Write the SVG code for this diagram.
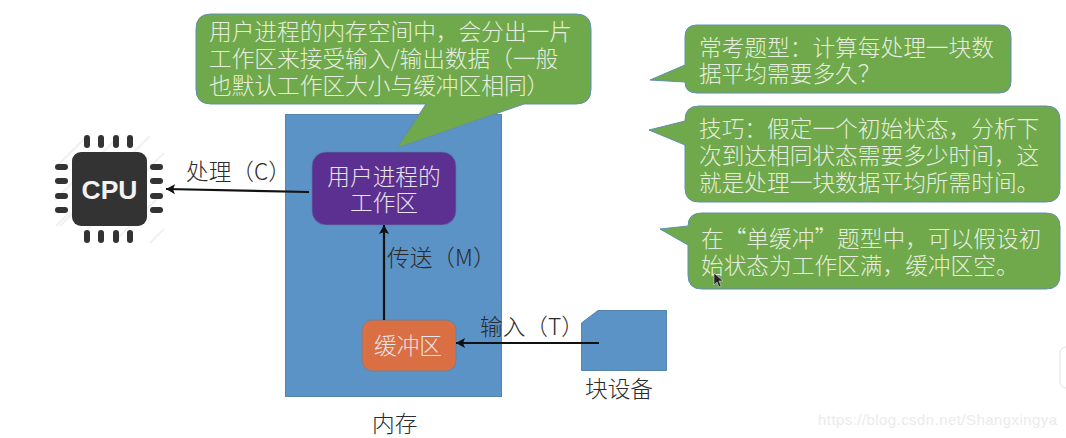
<svg xmlns="http://www.w3.org/2000/svg" width="1066" height="438" viewBox="0 0 1066 438">
<style>
text{font-family:"Noto Sans CJK SC","Liberation Sans",sans-serif}
.call{fill:#70a84c;stroke:#5f8fb0;stroke-width:1;stroke-linejoin:round}
.ct{font-size:22.7px;fill:#e6efdf;font-weight:300}
.lb{font-size:22.7px;fill:#2b2b2b;font-weight:300}
.wt{font-size:22.7px;fill:#e9e3ea;text-anchor:middle;font-weight:300}
.blue{fill:#5b93c6;stroke:#5585ad;stroke-width:1}
.pin{fill:#333}
.hatch{stroke:#f1f1f1;stroke-width:2}
.conn{fill:none;stroke:#111;stroke-width:2.2;marker-end:url(#ah)}
</style>
<defs>
<marker id="ah" markerUnits="userSpaceOnUse" markerWidth="10" markerHeight="10" refX="9" refY="5" orient="auto"><path d="M0 0L9 5L0 10L2 5Z" fill="#111"/></marker>
</defs>
<rect width="1066" height="438" fill="#fff"/>
<g id="memory">
<rect class="blue" x="285.500" y="114.500" width="216" height="282"/>
<text class="lb" x="372" y="431.500">内存</text>
</g>
<g id="cpu">
<path class="hatch" d="M55 168L88 135M55 200L120 135M60 226L150 136M84 233L164 153M118 238L164 192M56 226L70 212M150 243L164 229"/>
<rect x="72" y="152" width="75" height="74" rx="9" fill="#333"/>
<g class="pin">
<rect x="84" y="135" width="6" height="13" rx="3"/><rect x="98" y="135" width="6" height="13" rx="3"/><rect x="113" y="135" width="6" height="13" rx="3"/><rect x="127" y="135" width="6" height="13" rx="3"/>
<rect x="84" y="230" width="6" height="13" rx="3"/><rect x="98" y="230" width="6" height="13" rx="3"/><rect x="113" y="230" width="6" height="13" rx="3"/><rect x="127" y="230" width="6" height="13" rx="3"/>
<rect x="55" y="164" width="13" height="6" rx="3"/><rect x="55" y="178" width="13" height="6" rx="3"/><rect x="55" y="193" width="13" height="6" rx="3"/><rect x="55" y="207" width="13" height="6" rx="3"/>
<rect x="150" y="164" width="13" height="6" rx="3"/><rect x="150" y="178" width="13" height="6" rx="3"/><rect x="150" y="193" width="13" height="6" rx="3"/><rect x="150" y="207" width="13" height="6" rx="3"/>
</g>
<text x="109.500" y="199" font-size="26.500" font-weight="700" fill="#f2f2f2" text-anchor="middle" style="font-family:'Liberation Sans',sans-serif">CPU</text>
</g>
<g id="workarea">
<rect x="312" y="152" width="144" height="73" rx="14" fill="#5b3090" stroke="#5585ad" stroke-width="0.600"/>
<text class="wt" y="184.500"><tspan x="384">用户进程的</tspan><tspan x="384" dy="26">工作区</tspan></text>
</g>
<g id="buffer">
<rect x="362" y="320" width="94" height="51" rx="10" fill="#d96f42" stroke="#5585ad" stroke-width="0.800"/>
<text class="wt" x="408" y="353.500">缓冲区</text>
</g>
<g id="block-device">
<path class="blue" d="M581.500 323L598 310.500H666.500V370.500H581.500Z"/>
<text class="lb" x="585" y="396.500">块设备</text>
</g>
<g id="connectors">
<path class="conn" d="M309 192L166 189"/>
<path class="conn" d="M384 320V225"/>
<path class="conn" d="M599 343H456"/>
</g>
<g id="edge-labels">
<text class="lb" x="186" y="180">处理（C）</text>
<text class="lb" x="387" y="266">传送（M）</text>
<text class="lb" x="480" y="334.500">输入（T）</text>
</g>
<g id="callout-workarea">
<path class="call" d="M211 14H576Q591 14 591 29V89Q591 104 576 104H524L397 148L426 104H211Q196 104 196 89V29Q196 14 211 14Z"/>
<text class="ct" y="40"><tspan x="209">用户进程的内存空间中，会分出一片</tspan><tspan x="209" dy="27">工作区来接受输入/输出数据（一般</tspan><tspan x="209" dy="27">也默认工作区大小与缓冲区相同）</tspan></text>
</g>
<g id="callout-question">
<path class="call" d="M697 25H999Q1011 25 1011 37V81Q1011 93 999 93H697Q685 93 685 82L650 80L685 65V37Q685 25 697 25Z"/>
<text class="ct" y="55.500"><tspan x="699">常考题型：计算每处理一块数</tspan><tspan x="699" dy="26.500">据平均需要多久？</tspan></text>
</g>
<g id="callout-tip">
<path class="call" d="M699 106H1046Q1060 106 1060 120V188Q1060 202 1046 202H699Q685 202 685 188V145L649 130L685 121V120Q685 106 699 106Z"/>
<text class="ct" y="137"><tspan x="699">技巧：假定一个初始状态，分析下</tspan><tspan x="699" dy="27">次到达相同状态需要多少时间，这</tspan><tspan x="699" dy="27">就是处理一块数据平均所需时间。</tspan></text>
</g>
<g id="callout-assume">
<path class="call" d="M702 213H1046Q1060 213 1060 227V275Q1060 289 1046 289H702Q688 289 688 275V245L660 229L688 226Q688 213 702 213Z"/>
<text class="ct" y="246.500"><tspan x="701">在“单缓冲”题型中，可以假设初</tspan><tspan x="701" dy="27">始状态为工作区满，缓冲区空。</tspan></text>
</g>
<path id="cursor" d="M714 273V285L717 282L719 287L721 286L719 281H723Z" fill="#222" stroke="#eee" stroke-width="0.500"/>
<rect id="scroll-handle" x="1060" y="347" width="14" height="41" rx="6" fill="#fff" stroke="#e2e2e2"/>
<text id="watermark" x="818" y="425" font-size="15" fill="#ebebeb" style="font-family:'Liberation Sans',sans-serif" textLength="239">https://blog.csdn.net/Shangxingya</text>
</svg>
